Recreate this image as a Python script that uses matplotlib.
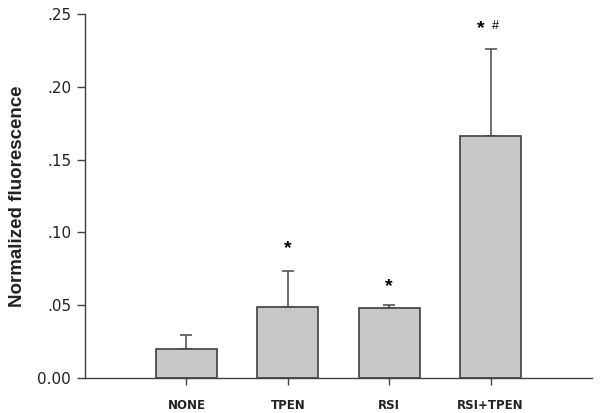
import matplotlib
matplotlib.use("Agg")
from matplotlib import pyplot as plt
from matplotlib.ticker import FuncFormatter

groups = ["NONE", "TPEN", "RSI", "RSI+TPEN"]
means = [0.0199, 0.0490, 0.0483, 0.1663]
err_up = [0.0094, 0.0245, 0.0018, 0.0600]
marks = ["", "*", "*", "* #"]
mark_y = [None, 0.089, 0.063, 0.240]

plt.rcParams['font.family'] = ['DejaVu Sans']

fig = plt.figure(figsize=(6.01, 4.13), dpi=100)
ax = fig.add_axes([0.1414, 0.0847, 0.8436, 0.8814])

x = list(range(len(groups)))
ax.bar(x, means, width=0.6, color='#c8c8c8', edgecolor='#404040', linewidth=1.2, zorder=2)
ax.errorbar(x, means, yerr=[[0] * len(x), err_up], fmt='none', ecolor='#555555',
            elinewidth=1.2, capsize=4, capthick=1.2, zorder=1)

for xi, m, yy in zip(x, marks, mark_y):
    if not m:
        continue
    if m == "*":
        ax.text(xi, yy, "*", ha='center', va='center', fontsize=14, fontweight='bold',
                family='Liberation Sans')
    else:
        ax.text(xi - 0.1, yy, "*", ha='center', va='center', fontsize=14, fontweight='bold',
                family='Liberation Sans')
        ax.text(xi + 0.05, yy + 0.002, "#", ha='center', va='center', fontsize=9,
                family='Liberation Sans')

ax.set_xlim(-1, 4)
ax.set_ylim(0, 0.25)
ax.set_yticks([0, 0.05, 0.10, 0.15, 0.20, 0.25])
ax.yaxis.set_major_formatter(FuncFormatter(lambda v, p: "0.00" if v == 0 else f"{v:.2f}".lstrip("0")))
ax.set_xticks(x)
ax.set_xticklabels(groups, fontweight='bold', fontsize=8.5)
ax.tick_params(axis='y', labelsize=11, length=6, width=1, color='#404040', pad=4,
               labelcolor='#222222')
ax.tick_params(axis='x', length=5, width=1, color='#404040', pad=10, labelcolor='#222222')

ax.set_ylabel("Normalized fluorescence", fontweight='bold', fontsize=13.5, labelpad=8,
              family='Liberation Sans', color='#222222')

for side in ['top', 'right']:
    ax.spines[side].set_visible(False)
for side in ['left', 'bottom']:
    ax.spines[side].set_color('#404040')
    ax.spines[side].set_linewidth(1.0)

fig.savefig("out.png", dpi=100)
